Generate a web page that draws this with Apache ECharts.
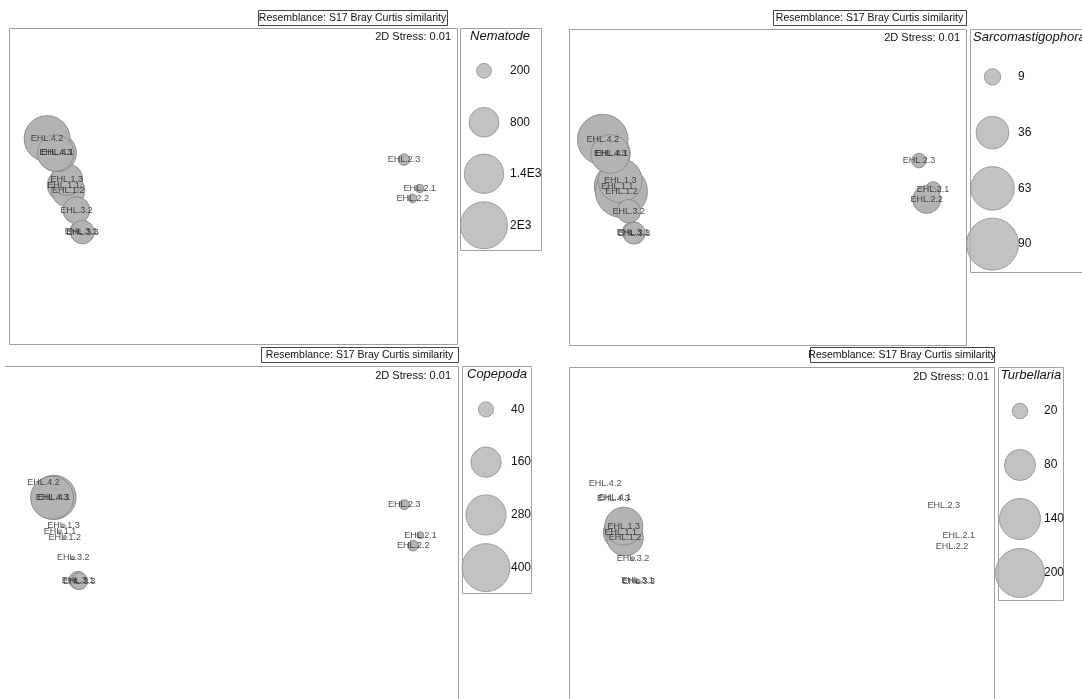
<!DOCTYPE html>
<html><head><meta charset="utf-8">
<script src="https://cdn.jsdelivr.net/npm/echarts@6/dist/echarts.min.js"></script>
<style>html,body{margin:0;padding:0;background:#fff}#c{width:1082px;height:699px}</style>
</head><body><div id="c"></div>
<script>
// ---- data ----
const samples = ['EHL.1.1','EHL.1.2','EHL.1.3','EHL.2.1','EHL.2.2','EHL.2.3','EHL.3.1','EHL.3.2','EHL.3.3','EHL.4.1','EHL.4.2','EHL.4.3'];
const mds1 = [-0.757,-0.736,-0.742,0.834,0.802,0.763,-0.678,-0.699,-0.672,-0.784,-0.830,-0.792];
const mds2 = [0.005,-0.028,0.041,-0.016,-0.079,0.167,-0.287,-0.153,-0.292,0.211,0.300,0.209];
const nematode = [950,1000,900,60,70,120,450,650,500,1300,1900,1200];
const sarcomastigophora = [70,90,64,8,26,7,15,18,16,45,85,50];
const copepoda = [2,2,2,8,20,17,55,2,50,340,0,320];
const turbellaria = [100,110,120,0,0,0,1,1,1,0,0,0];
const nematodeLegend = ['200','800','1.4E3','2E3'];
const nematodeLegendValues = [200,800,1400,2000];
const sarcoLegend = ['9','36','63','90'];
const sarcoLegendValues = [9,36,63,90];
const copepodaLegend = ['40','160','280','400'];
const copepodaLegendValues = [40,160,280,400];
const turbLegend = ['20','80','140','200'];
const turbLegendValues = [20,80,140,200];
const titleText = 'Resemblance: S17 Bray Curtis similarity';
const stressText = '2D Stress: 0.01';

// ---- layout ----
const panels = [
  {name:'Nematode', vals:nematode, lg:nematodeLegend, lgv:nematodeLegendValues, maxD:47,
   grid:{left:9,top:28,width:448,height:316}, frame:[[9.5,28.5],[457.5,28.5],[457.5,344.5],[9.5,344.5],[9.5,28.5]],
   lgrid:{left:461,top:45,width:46,height:206}, lmargin:3,
   box:[258,10,189,15], stressX:451, stressY:37, lbox:[460,28,81,222], ltitle:[500,36,'center']},
  {name:'Sarcomastigophora', vals:sarcomastigophora, lg:sarcoLegend, lgv:sarcoLegendValues, maxD:52,
   grid:{left:569,top:29,width:397,height:316}, frame:[[569.5,29.5],[966.5,29.5],[966.5,345.5],[569.5,345.5],[569.5,29.5]],
   lgrid:{left:970,top:49,width:45,height:223}, lmargin:3,
   box:[773,10,193,15], stressX:960, stressY:38, lbox:[970,29,130,243], ltitle:[973,37,'left']},
  {name:'Copepoda', vals:copepoda, lg:copepodaLegend, lgv:copepodaLegendValues, maxD:48,
   grid:{left:5,top:366,width:453,height:336}, frame:[[5,366.5],[458.5,366.5],[458.5,699]],
   lgrid:{left:463,top:383,width:46,height:211}, lmargin:2,
   box:[261,347,197,15], stressX:451, stressY:376, lbox:[462,366,69,227], ltitle:[497,374,'center']},
  {name:'Turbellaria', vals:turbellaria, lg:turbLegend, lgv:turbLegendValues, maxD:49,
   grid:{left:569,top:367,width:425,height:336}, frame:[[569.5,699],[569.5,367.5],[994.5,367.5],[994.5,699]],
   lgrid:{left:1000,top:384,width:40,height:216}, lmargin:4,
   box:[810,347,184,15], stressX:989, stressY:377, lbox:[998,367,65,233], ltitle:[1031,375,'center']}
];

const fill = '#b3b3b3', stroke = '#8e8e8e';
const grid = [], xAxis = [], yAxis = [], series = [], graphic = [];
panels.forEach((p, i) => {
  const k = p.maxD / Math.sqrt(p.lgv[p.lgv.length - 1]);
  const gi = grid.length;
  grid.push(Object.assign({show:false, containLabel:false}, p.grid));
  xAxis.push({type:'value', gridIndex:gi, min:-1, max:1, show:false});
  yAxis.push({type:'value', gridIndex:gi, min:-1, max:1, show:false});
  const data = samples.map((s, j) => [mds1[j], mds2[j], p.vals[j], s]);
  series.push({type:'scatter', xAxisIndex:gi, yAxisIndex:gi, data:data, silent:true, z:2,
    symbolSize: d => k * Math.sqrt(d[2]),
    itemStyle:{color:fill, borderColor:stroke, borderWidth:1, opacity:1}});
  series.push({type:'scatter', xAxisIndex:gi, yAxisIndex:gi, data:data, silent:true, z:5,
    symbolSize:1, itemStyle:{color:'rgba(0,0,0,0)'},
    label:{show:true, position:'inside', formatter: d => d.value[3], fontSize:9,
      fontFamily:'Liberation Sans, Arial', color:'#222'}});
  // legend grid
  const li = grid.length;
  grid.push(Object.assign({show:false}, p.lgrid));
  xAxis.push({type:'value', gridIndex:li, min:0, max:1, show:false});
  yAxis.push({type:'category', gridIndex:li, data:p.lg, inverse:true, position:'right',
    axisLine:{show:false}, axisTick:{show:false}, splitLine:{show:false},
    axisLabel:{show:true, margin:p.lmargin, fontSize:12, color:'#111', fontFamily:'Liberation Sans, Arial'}});
  series.push({type:'scatter', xAxisIndex:li, yAxisIndex:li, silent:true,
    data:p.lg.map((l, j) => [0.5, l, p.lgv[j]]),
    symbolSize: d => k * Math.sqrt(d[2]),
    itemStyle:{color:fill, borderColor:stroke, borderWidth:1}});
  // decorations
  graphic.push({type:'polyline', silent:true, z:-1, shape:{points:p.frame},
    style:{fill:'none', stroke:'#a0a0a0', lineWidth:1}});
  graphic.push({type:'rect', shape:{x:p.box[0]+0.5, y:p.box[1]+0.5, width:p.box[2], height:p.box[3]},
    style:{fill:'#fff', stroke:'#444', lineWidth:1}, silent:true});
  graphic.push({type:'text', x:p.box[0]+p.box[2]/2, y:p.box[1]+p.box[3]/2+1, silent:true,
    style:{text:titleText, fontSize:10.5, fontFamily:'Liberation Sans, Arial', fill:'#111', align:'center', verticalAlign:'middle'}});
  graphic.push({type:'text', x:p.stressX, y:p.stressY, silent:true,
    style:{text:stressText, fontSize:11, fontFamily:'Liberation Sans, Arial', fill:'#111', align:'right', verticalAlign:'middle'}});
  graphic.push({type:'rect', shape:{x:p.lbox[0]+0.5, y:p.lbox[1]+0.5, width:p.lbox[2], height:p.lbox[3]},
    style:{fill:'none', stroke:'#a0a0a0', lineWidth:1}, silent:true, z:-1});
  graphic.push({type:'text', x:p.ltitle[0], y:p.ltitle[1], silent:true,
    style:{text:p.name, fontSize:13, fontStyle:'italic', fontFamily:'Liberation Sans, Arial', fill:'#111', align:p.ltitle[2], verticalAlign:'middle'}});
});

const chart = echarts.init(document.getElementById('c'), null, {renderer:'canvas'});
chart.setOption({animation:false, backgroundColor:'#fff', grid, xAxis, yAxis, series, graphic});
</script></body></html>
